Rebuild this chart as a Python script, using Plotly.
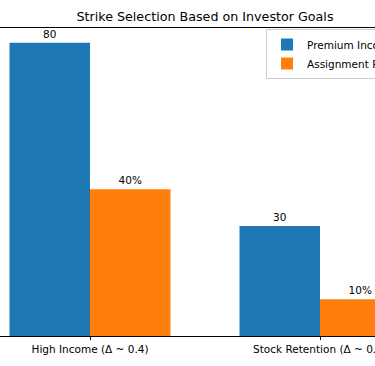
import plotly.graph_objects as go

categories = ["High Income (Δ ~ 0.4)", "Stock Retention (Δ ~ 0.1)"]
premium_income = [80, 30]
assignment_risk = [40, 10]
series_names = ["Premium Income", "Assignment Risk"]

W, H = 375, 366
FONT = "DejaVu Sans"
PLOT_TOP, PLOT_BOT = 28, 336
PLOT_H = PLOT_BOT - PLOT_TOP

fig = go.Figure()
fig.add_trace(go.Bar(
    x=[0, 1], y=premium_income, name=series_names[0],
    marker=dict(color="#1f77b4", line=dict(width=0)),
    texttemplate="%{y}", textposition="outside", cliponaxis=False,
    textfont=dict(family=FONT, size=10.5, color="#000"),
))
fig.add_trace(go.Bar(
    x=[0, 1], y=assignment_risk, name=series_names[1],
    marker=dict(color="#ff7f0e", line=dict(width=0)),
    texttemplate="%{y}%", textposition="outside", cliponaxis=False,
    textfont=dict(family=FONT, size=10.5, color="#000"),
))

fig.update_layout(
    width=W, height=H,
    margin=dict(l=0, r=0, t=PLOT_TOP, b=H - PLOT_BOT, pad=0, autoexpand=False),
    paper_bgcolor="white", plot_bgcolor="white",
    barmode="group", bargap=0.3, bargroupgap=0,
    font=dict(family=FONT, size=10.5, color="#000"),
    title=dict(text="Strike Selection Based on Investor Goals",
               x=205 / W, xref="paper", xanchor="center",
               y=1 - 17 / H, yref="container", yanchor="middle",
               font=dict(family=FONT, size=12.7, color="#000")),
    legend=dict(x=266 / W, y=(PLOT_BOT - 29) / PLOT_H,
                xanchor="left", yanchor="top",
                bgcolor="rgba(255,255,255,0.8)", bordercolor="#cccccc", borderwidth=1,
                font=dict(family=FONT, size=10.5, color="#000"),
                itemsizing="constant"),
    showlegend=True,
)
fig.update_xaxes(
    range=[-90 / 230, (375 - 90) / 230],
    tickmode="array", tickvals=[0, 1], ticktext=categories,
    ticks="outside", ticklen=3.5, tickwidth=0.8, tickcolor="#000",
    ticklabeloverflow="allow",
    showline=True, linecolor="#000", linewidth=0.8, mirror=True,
    showgrid=False, zeroline=False,
    tickfont=dict(family=FONT, size=10.5, color="#000"),
)
fig.update_yaxes(range=[0, 84], showgrid=False, zeroline=False, showticklabels=False,
                 ticks="", showline=False)

fig.write_html(
    "out.html",
    config={"displayModeBar": False},
    post_script="document.body.style.margin='0';document.body.style.overflow='hidden';",
)
